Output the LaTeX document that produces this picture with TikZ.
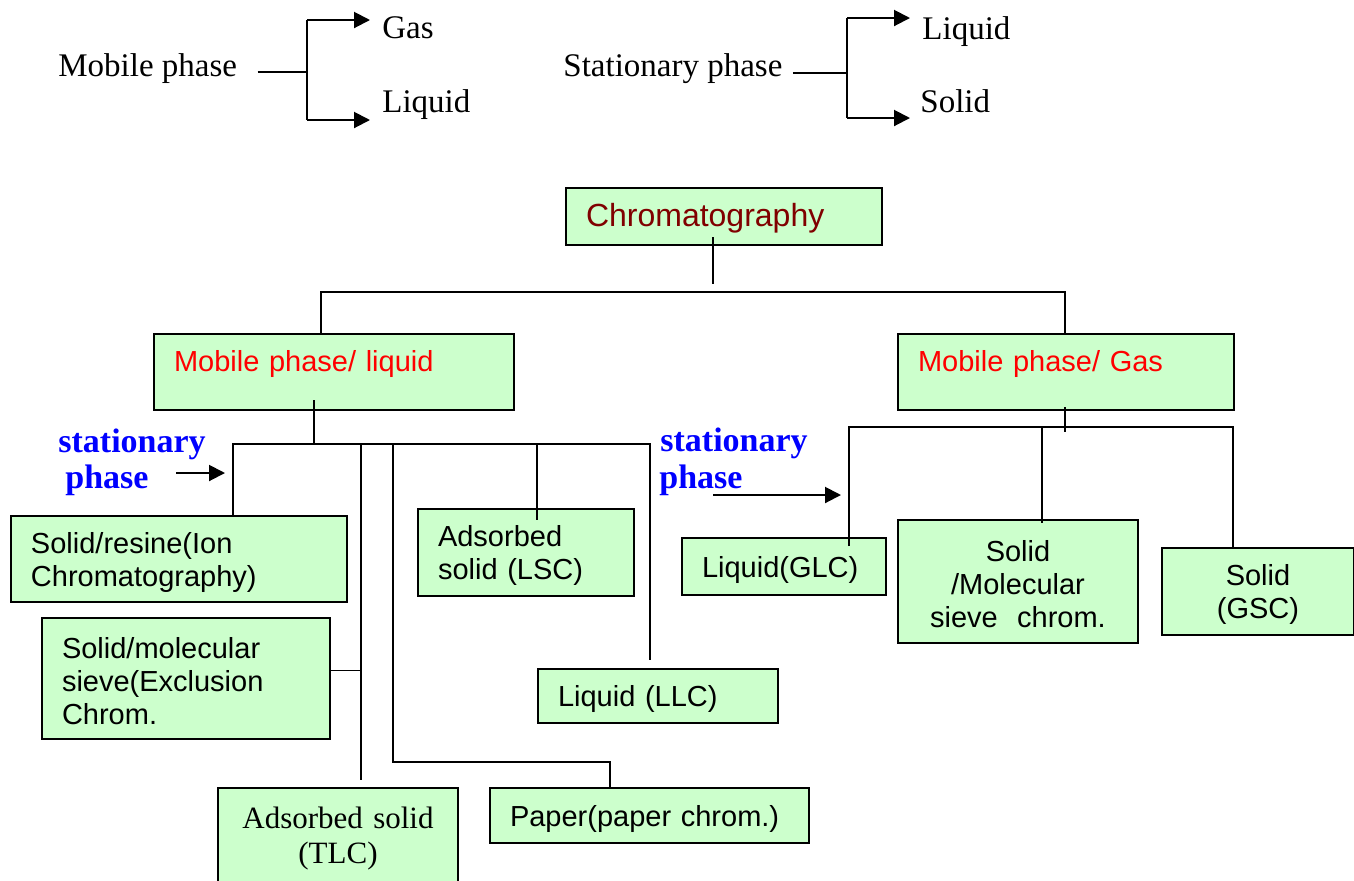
\documentclass[tikz,border=0pt]{standalone}
\usepackage{fontspec}
\setmainfont{Liberation Serif}
\setsansfont{Liberation Sans}
\usepackage{tikz}
\usetikzlibrary{arrows.meta}

\definecolor{boxgreen}{RGB}{204,255,204}
\definecolor{chromred}{RGB}{128,0,0}

\tikzset{
    box/.style={draw, fill=boxgreen, line width=1pt, inner xsep=10pt, inner ysep=0pt,
        anchor=north west, align=left, font=\sffamily\fontsize{14.5}{16.5}\selectfont,
        execute at begin node={\rule{0pt}{13.5pt}}},
    conn/.style={line width=0.75pt},
    arr/.style={line width=1pt, -{Triangle[length=8pt,width=8pt]}},
    phase/.style={anchor=base west, inner sep=0pt, font=\fontsize{16.5}{20}\selectfont},
    stat/.style={anchor=base west, inner sep=0pt, text=blue, font=\bfseries\fontsize{17}{20}\selectfont}
}

\begin{document}
\begin{tikzpicture}[x=0.5pt, y=-0.5pt]
    \path[fill=white] (0,0) rectangle (1354,880);
    \useasboundingbox (0,0) rectangle (1354,880);

    \node[phase] (mob) at (58,76) {Mobile phase};
    \node[phase] (gas) at (382,38) {Gas};
    \node[phase] (liq) at (382,112) {Liquid};
    \coordinate (mfTop) at (307,20);
    \coordinate (mfBot) at (307,120);
    \coordinate (mfMid) at (307,72);
    \draw[line width=1pt] ([xshift=10pt]mob.east |- mfMid) -- (mfMid);
    \draw[line width=1pt] (mfTop) -- (mfBot);
    \draw[arr] (mfTop) -- ([xshift=-6pt]gas.west |- mfTop);
    \draw[arr] (mfBot) -- ([xshift=-6pt]liq.west |- mfBot);

    \node[phase] (stp) at (563,76) {Stationary phase};
    \node[phase] (sliq) at (922,39) {Liquid};
    \node[phase] (ssol) at (920,112) {Solid};
    \coordinate (sfTop) at (847,18);
    \coordinate (sfBot) at (847,118);
    \coordinate (sfMid) at (847,73);
    \draw[line width=1pt] ([xshift=5pt]stp.east |- sfMid) -- (sfMid);
    \draw[line width=1pt] (sfTop) -- (sfBot);
    \draw[arr] (sfTop) -- ([xshift=-6pt]sliq.west |- sfTop);
    \draw[arr] (sfBot) -- ([xshift=-5pt]ssol.west |- sfBot);

    \node[box, text width=138pt, minimum height=28.5pt, text=chromred,
        font=\sffamily\fontsize{16}{18}\selectfont] (chrom) at (565,187) {Chromatography};
    \node[box, text width=160pt, minimum height=38pt, text=red, text height=10pt, text depth=11pt]
        (mliq) at (153,333) {Mobile phase/ liquid};
    \node[box, text width=148pt, minimum height=38pt, text=red, text height=10pt, text depth=11pt]
        (mgas) at (897,333) {Mobile phase/ Gas};

    \node[box, text width=148pt, minimum height=43pt] (ion) at (10,515) {Solid/resine(Ion\\Chromatography)};
    \node[box, text width=124pt, minimum height=60.5pt] (excl) at (41,617) {Solid/molecular\\sieve(Exclusion\\Chrom.};
    \node[box, text width=100pt, minimum height=47.5pt, align=center,
        font=\fontsize{15.5}{17.5}\selectfont] (tlc) at (217,787) {Adsorbed solid\\(TLC)};
    \node[box, text width=139.5pt, minimum height=27.5pt] (paper) at (489,787) {Paper(paper chrom.)};
    \node[box, text width=88pt, minimum height=43.5pt] (lsc) at (417,508) {Adsorbed\\solid (LSC)};
    \node[box, text width=100pt, minimum height=27pt] (llc) at (537,668) {Liquid (LLC)};

    \node[box, text width=82pt, minimum height=28.5pt] (glc) at (681,537) {Liquid(GLC)};
    \node[box, text width=100pt, minimum height=61.5pt, align=center] (msieve) at (897,519) {Solid\\/Molecular\\sieve~ chrom.};
    \node[box, text width=76pt, minimum height=43.5pt, align=center] (gsc) at (1161,547) {Solid\\(GSC)};

    \coordinate (chromStem) at (713,284);
    \coordinate (busTL) at (321,292);
    \coordinate (busTR) at (1065,292);
    \draw[conn] ([yshift=4.5pt]chrom.south -| chromStem) -- (chromStem);
    \draw[conn] (mliq.north -| busTL) |- (busTR) -- (mgas.north -| busTR);

    \coordinate (liqStem) at (314,445);
    \coordinate (b1) at (233,444);
    \coordinate (b2) at (361,444);
    \coordinate (b3) at (393,444);
    \coordinate (b4) at (537,444);
    \coordinate (b5) at (650,444);
    \coordinate (pj) at (610,762);
    \draw[conn] ([yshift=5.5pt]mliq.south -| liqStem) -- (liqStem);
    \draw[conn] (ion.north -| b1) -- (b1) -- (b5) -- ([yshift=4pt]llc.north -| b5);
    \draw[conn] (b2) -- ([yshift=3.5pt]tlc.north -| b2);
    \draw[conn] ([yshift=4pt]excl.east) -- ([yshift=4pt]excl.east -| b2);
    \draw[conn] (b3) |- (pj) -- (paper.north -| pj);
    \draw[conn] (b4) -- ([yshift=-6pt]lsc.north -| b4);

    \coordinate (gasStem) at (1065,432);
    \coordinate (g1) at (849,427);
    \coordinate (g2) at (1042,427);
    \coordinate (g3) at (1233,427);
    \draw[conn] ([yshift=2pt]mgas.south -| gasStem) -- (gasStem);
    \draw[conn] ([yshift=-4.5pt]glc.north -| g1) -- (g1) -- (g3) -- (gsc.north -| g3);
    \draw[conn] (g2) -- ([yshift=-2pt]msieve.north -| g2);

    \node[stat] (statL) at (58,452) {stationary};
    \node[stat] (phL) at (65,488) {phase};
    \node[stat] (statR) at (660,451) {stationary};
    \node[stat] (phR) at (659,488) {phase};
    \coordinate (arrLs) at (176,473);
    \coordinate (arrLe) at (225,473);
    \coordinate (arrRs) at (713,495);
    \coordinate (arrRe) at (841,495);
    \draw[arr] (arrLs) -- (arrLe);
    \draw[arr] (arrRs) -- (arrRe);
\end{tikzpicture}
\end{document}
